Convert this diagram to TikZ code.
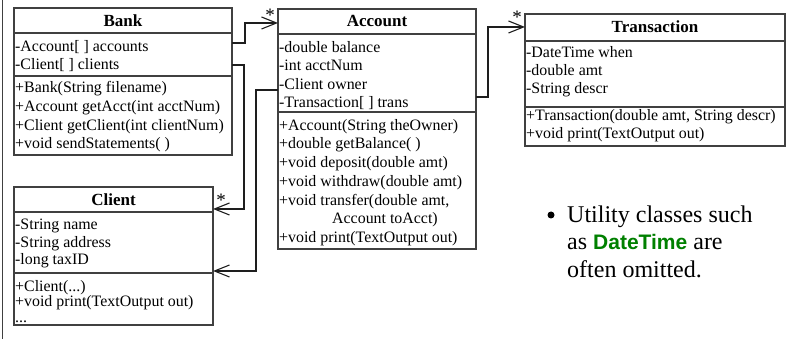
\documentclass[tikz,border=0pt]{standalone}
\usepackage{fontspec}
\setmainfont{Liberation Serif}
\newfontfamily\sansbold{Liberation Sans}[BoldFont={Liberation Sans Bold}]
\usetikzlibrary{arrows.meta}
\definecolor{boxline}{HTML}{404040}
\definecolor{wire}{HTML}{1E1E1E}
\definecolor{dtgreen}{HTML}{008000}
\tikzset{
  x=1pt, y=-1pt,
  classbox/.style={draw=boxline, line width=1.4pt, anchor=north west,
    inner sep=0pt, outer sep=0pt},
  divider/.style={draw=boxline, line width=1.4pt},
  member/.style={anchor=base west, inner sep=0pt,
    font=\fontsize{15.9}{19}\selectfont},
  classname/.style={anchor=base, inner sep=0pt,
    font=\fontsize{17}{19}\selectfont\bfseries},
  mult/.style={anchor=base, inner sep=0pt, font=\fontsize{19}{19}\selectfont},
  assoc/.style={draw=wire, line width=1.1pt,
    -{Straight Barb[length=15pt, width=12pt, line width=1.1pt]}},
  note/.style={anchor=base west, inner sep=0pt,
    font=\fontsize{24}{27}\selectfont}
}
\begin{document}
\begin{tikzpicture}
\useasboundingbox (0,0) rectangle (793,339);
\fill[white] (0,0) rectangle (793,339);

% slide edge on the left
\draw[boxline, line width=1.2pt] (2.5,0) -- (2.5,339);

% ---------- Bank ----------
\node[classbox, minimum width=218pt, minimum height=147pt] (bank) at (14,8) {};
\draw[divider] (bank.west |- 0,33) -- (bank.east |- 0,33);
\draw[divider] (bank.west |- 0,76) -- (bank.east |- 0,76);
\node[classname] (bank-t) at (123,27) {Bank};
\node[member] (bank-a1) at (15,52) {-Account[ ] accounts};
\node[member] (bank-a2) at (15,70) {-Client[ ] clients};
\node[member] (bank-m1) at (15,93) {+Bank(String filename)};
\node[member] (bank-m2) at (15,112) {+Account getAcct(int acctNum)};
\node[member] (bank-m3) at (15,131) {+Client getClient(int clientNum)};
\node[member] (bank-m4) at (15,149) {+void sendStatements( )};

% ---------- Account ----------
\node[classbox, minimum width=198pt, minimum height=240pt] (account) at (278,9) {};
\draw[divider] (account.west |- 0,34) -- (account.east |- 0,34);
\draw[divider] (account.west |- 0,112) -- (account.east |- 0,112);
\node[classname] (account-t) at (377,27) {Account};
\node[member] (account-a1) at (279,53) {-double balance};
\node[member] (account-a2) at (279,71) {-int acctNum};
\node[member] (account-a3) at (279,90) {-Client owner};
\node[member] (account-a4) at (279,108) {-Transaction[ ] trans};
\node[member] (account-m1) at (279,131) {+Account(String theOwner)};
\node[member] (account-m2) at (279,149) {+double getBalance( )};
\node[member] (account-m3) at (279,168) {+void deposit(double amt)};
\node[member] (account-m4) at (279,187) {+void withdraw(double amt)};
\node[member] (account-m5) at (279,206) {+void transfer(double amt,};
\node[member] (account-m6) at (332,224) {Account toAcct)};
\node[member] (account-m7) at (279,243) {+void print(TextOutput out)};

% ---------- Transaction ----------
\node[classbox, minimum width=260pt, minimum height=132pt] (transaction) at (525,14) {};
\draw[divider] (transaction.west |- 0,41) -- (transaction.east |- 0,41);
\draw[divider] (transaction.west |- 0,107) -- (transaction.east |- 0,107);
\node[classname] (transaction-t) at (655,33) {Transaction};
\node[member] (transaction-a1) at (526,58) {-DateTime when};
\node[member] (transaction-a2) at (526,76) {-double amt};
\node[member] (transaction-a3) at (526,94) {-String descr};
\node[member] (transaction-m1) at (526,121) {+Transaction(double amt, String descr)};
\node[member] (transaction-m2) at (526,139) {+void print(TextOutput out)};

% ---------- Client ----------
\node[classbox, minimum width=199pt, minimum height=138pt] (client) at (14,187) {};
\draw[divider] (client.west |- 0,212) -- (client.east |- 0,212);
\draw[divider] (client.west |- 0,273) -- (client.east |- 0,273);
\node[classname] (client-t) at (113.5,206) {Client};
\node[member] (client-a1) at (15,230) {-String name};
\node[member] (client-a2) at (15,248) {-String address};
\node[member] (client-a3) at (15,265) {-long taxID};
\node[member] (client-m1) at (15,291) {+Client(...)};
\node[member] (client-m2) at (15,307) {+void print(TextOutput out)};
\node[member] (client-m3) at (15,323) {...};

% ---------- associations ----------
\draw[assoc] (bank.east |- 0,43) -- ++(13,0) |- (account.west |- 0,23);
\draw[assoc] (bank.east |- 0,65) -- ++(12,0) |- (client.east |- 0,209);
\draw[assoc] (account.west |- 0,90) -- ++(-22,0) |- (client.east |- 0,271);
\draw[assoc] (account.east |- 0,97) -- ++(12,0) |- (transaction.west |- 0,27);

\node[mult] (m-acc) at (270,22) {*};
\node[mult] (m-cli) at (221,207) {*};
\node[mult] (m-tra) at (517,24) {*};

% ---------- note ----------
\node[circle, fill=black, inner sep=0pt, minimum size=7pt] (bullet) at (551,215) {};
\node[note] (note1) at (567,223) {Utility classes such};
\node[note] (note2) at (567,250) {as {\sansbold\bfseries\fontsize{21}{27}\selectfont\color{dtgreen}DateTime} are};
\node[note] (note3) at (567,278) {often omitted.};
\end{tikzpicture}
\end{document}
